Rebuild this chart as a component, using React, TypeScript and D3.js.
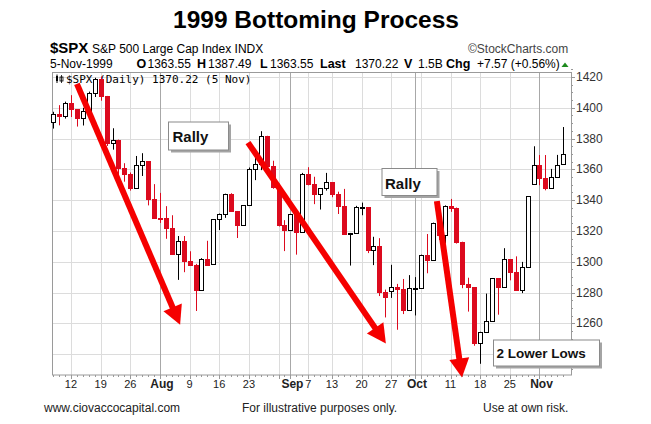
import React from "react";
import * as d3 from "d3";

// ---- Data (S&P 500 daily, Jul 7 – Nov 5 1999) ----
const dates = [
  "Jul 7","Jul 8","Jul 9","Jul 12","Jul 13","Jul 14","Jul 15","Jul 16","Jul 19","Jul 20","Jul 21","Jul 22","Jul 23","Jul 26","Jul 27","Jul 28","Jul 29","Jul 30",
  "Aug 2","Aug 3","Aug 4","Aug 5","Aug 6","Aug 9","Aug 10","Aug 11","Aug 12","Aug 13","Aug 16","Aug 17","Aug 18","Aug 19","Aug 20","Aug 23","Aug 24","Aug 25","Aug 26","Aug 27","Aug 30","Aug 31",
  "Sep 1","Sep 2","Sep 3","Sep 7","Sep 8","Sep 9","Sep 10","Sep 13","Sep 14","Sep 15","Sep 16","Sep 17","Sep 20","Sep 21","Sep 22","Sep 23","Sep 24","Sep 27","Sep 28","Sep 29","Sep 30",
  "Oct 1","Oct 4","Oct 5","Oct 6","Oct 7","Oct 8","Oct 11","Oct 12","Oct 13","Oct 14","Oct 15","Oct 18","Oct 19","Oct 20","Oct 21","Oct 22","Oct 25","Oct 26","Oct 27","Oct 28","Oct 29",
  "Nov 1","Nov 2","Nov 3","Nov 4","Nov 5",
];

const opens = [
  1391.0, 1395.9, 1394.4, 1403.3, 1399.1, 1393.6, 1398.2, 1409.6, 1418.8, 1407.7, 1377.1, 1379.3, 1361.0, 1356.9, 1347.8, 1362.8, 1365.4, 1341.0,
  1328.7, 1328.1, 1322.2, 1305.3, 1313.7, 1300.3, 1297.8, 1281.4, 1301.9, 1298.2, 1327.7, 1330.8, 1344.2, 1332.8, 1323.6, 1336.6, 1360.2, 1363.5, 1381.8, 1362.0, 1348.3, 1324.0,
  1320.4, 1331.1, 1319.1, 1357.2, 1350.5, 1344.2, 1347.7, 1351.7, 1344.1, 1336.3, 1318.0, 1318.5, 1335.4, 1335.5, 1307.6, 1310.5, 1280.4, 1281.0, 1283.3, 1282.2, 1268.4,
  1282.7, 1282.8, 1304.6, 1301.4, 1325.4, 1317.6, 1336.0, 1335.2, 1313.0, 1285.5, 1283.4, 1247.4, 1254.1, 1261.3, 1289.4, 1283.6, 1301.7, 1293.6, 1281.9, 1296.7, 1350.5,
  1362.9, 1354.1, 1347.7, 1354.9, 1363.55,
];

const highs = [
  1397.4, 1401.7, 1404.0, 1408.2, 1399.1, 1400.0, 1410.5, 1419.5, 1420.3, 1407.7, 1386.7, 1379.3, 1364.0, 1358.0, 1368.7, 1370.5, 1365.4, 1350.4,
  1344.7, 1336.1, 1330.2, 1316.7, 1316.7, 1306.8, 1298.6, 1302.3, 1313.6, 1327.7, 1331.3, 1344.2, 1344.5, 1332.8, 1336.6, 1361.2, 1367.4, 1384.8, 1381.8, 1365.6, 1350.7, 1327.0,
  1331.1, 1331.1, 1357.7, 1361.4, 1355.2, 1347.7, 1357.7, 1351.7, 1345.5, 1347.3, 1318.7, 1336.3, 1338.4, 1335.5, 1316.2, 1315.3, 1281.9, 1298.0, 1285.6, 1288.8, 1291.3,
  1290.0, 1304.6, 1318.0, 1325.4, 1328.1, 1336.6, 1340.8, 1335.2, 1313.0, 1289.6, 1283.4, 1254.5, 1279.3, 1289.4, 1289.4, 1308.8, 1301.7, 1303.5, 1299.9, 1342.5, 1375.0,
  1369.3, 1369.3, 1360.3, 1369.4, 1387.49,
];

const lows = [
  1386.5, 1388.6, 1393.0, 1394.0, 1387.8, 1388.5, 1397.5, 1407.0, 1404.6, 1375.2, 1372.8, 1355.6, 1352.0, 1346.2, 1347.8, 1355.7, 1336.6, 1328.5,
  1325.2, 1314.9, 1304.5, 1288.2, 1293.2, 1297.7, 1268.0, 1281.4, 1298.2, 1298.2, 1320.6, 1328.5, 1332.5, 1315.4, 1323.6, 1336.6, 1353.0, 1359.5, 1361.0, 1347.4, 1322.9, 1306.9,
  1320.4, 1304.6, 1319.1, 1349.6, 1337.4, 1333.9, 1346.2, 1341.9, 1331.0, 1317.5, 1297.5, 1318.5, 1330.2, 1305.6, 1297.8, 1277.7, 1263.8, 1276.5, 1255.8, 1266.0, 1268.4,
  1265.1, 1282.8, 1292.5, 1301.4, 1314.1, 1311.9, 1332.4, 1311.8, 1282.8, 1267.6, 1245.4, 1233.7, 1254.1, 1261.3, 1265.6, 1283.6, 1287.9, 1281.3, 1279.6, 1296.7, 1350.5,
  1349.7, 1346.4, 1347.7, 1354.6, 1363.55,
];

const closes = [
  1395.86, 1394.42, 1403.28, 1399.10, 1393.56, 1398.17, 1409.62, 1418.78, 1407.65, 1377.10, 1379.29, 1360.97, 1356.94, 1347.76, 1362.84, 1365.40, 1341.03, 1328.72,
  1328.05, 1322.18, 1305.33, 1313.71, 1300.29, 1297.80, 1281.43, 1301.93, 1298.16, 1327.68, 1330.77, 1344.16, 1332.84, 1323.59, 1336.61, 1360.22, 1363.50, 1381.79, 1362.01, 1348.27, 1324.02, 1320.41,
  1331.07, 1319.11, 1357.24, 1350.45, 1344.15, 1347.66, 1351.66, 1344.13, 1336.29, 1317.97, 1318.48, 1335.42, 1335.53, 1307.58, 1310.51, 1280.41, 1277.36, 1283.31, 1282.20, 1268.37, 1282.71,
  1282.81, 1304.60, 1301.35, 1325.40, 1317.64, 1336.02, 1335.21, 1313.04, 1285.55, 1283.42, 1247.41, 1254.13, 1261.32, 1289.43, 1283.61, 1301.65, 1293.63, 1281.91, 1296.71, 1342.44, 1362.93,
  1354.12, 1347.74, 1354.93, 1362.64, 1370.22,
];

const yTickValues = [1260, 1280, 1300, 1320, 1340, 1360, 1380, 1400, 1420];
const yGridValues = [1240, 1260, 1280, 1300, 1320, 1340, 1360, 1380, 1400, 1420];

const gridDates = ["Jul 12","Jul 19","Jul 26","Aug 2","Aug 9","Aug 16","Aug 23","Aug 30","Sep 1","Sep 7","Sep 13","Sep 20","Sep 27","Oct 1","Oct 4","Oct 11","Oct 18","Oct 25","Nov 1"];
const monthDates = ["Aug 2", "Sep 1", "Oct 1", "Nov 1"];
const xTickDates = ["Jul 12","Jul 19","Jul 26","Aug 2","Aug 9","Aug 16","Aug 23","Sep 1","Sep 7","Sep 13","Sep 20","Sep 27","Oct 1","Oct 11","Oct 18","Oct 25","Nov 1"];
const xTickLabels = ["12","19","26","Aug","9","16","23","Sep","7","13","20","27","Oct","11","18","25","Nov"];

// arrows in (trading-day index, price) coordinates
const arrowStarts: [number, number][] = [[4.0, 1415.5], [32.85, 1377.4], [64.7, 1339.4]];
const arrowEnds: [number, number][] = [[21.4, 1259.0], [56.1, 1246.8], [68.93, 1224.8]];

const FONT = "'Liberation Sans', Arial, Helvetica, sans-serif";
const RED = "#dc0a1e";
const ARROW = "#f50000";

function Box({ x, y, w, h, label, fs, tx, ty }: any) {
  return (
    <g>
      <rect x={x + 3} y={y + 3} width={w} height={h} fill="#a4a4a4" />
      <rect x={x + 0.5} y={y + 0.5} width={w} height={h} fill="#fff" stroke="#8a8a8a" strokeWidth={1} />
      <text x={tx} y={ty} fontFamily={FONT} fontWeight="bold" fontSize={fs} fill="#111">{label}</text>
    </g>
  );
}

export default function App() {
  const W = 651, H = 424;
  const left = 52, right = 571, top = 72.5, bottom = 375;

  const x = d3.scalePoint<string>().domain(dates).range([53.2, 563.2]);
  const step = x.step();
  const xi = (i: number) => (x(dates[0]) as number) + i * step;
  const y = d3.scaleLinear().domain([1260, 1420]).range([323.3, 77.0]);

  const px = (v: number) => Math.round(v) + 0.5;

  const candles = dates.map((d, i) => {
    const o = opens[i], c = closes[i], hi = highs[i], lo = lows[i];
    const cx = Math.round(x(d) as number);
    const up = c >= o;
    const yTop = Math.round(y(Math.max(o, c)));
    const yBot = Math.round(y(Math.min(o, c)));
    const bh = Math.max(1, yBot - yTop);
    if (up) {
      return (
        <g key={d}>
          <line x1={cx + 0.5} x2={cx + 0.5} y1={y(hi)} y2={y(lo)} stroke="#000" strokeWidth={1} />
          <rect x={cx - 2 + 0.5} y={yTop + 0.5} width={4} height={bh} fill="#fff" stroke="#000" strokeWidth={1} />
        </g>
      );
    }
    return (
      <g key={d}>
        <line x1={cx + 0.5} x2={cx + 0.5} y1={y(hi)} y2={y(lo)} stroke={RED} strokeWidth={1} />
        <rect x={cx - 2} y={yTop} width={5} height={bh + 1} fill={RED} />
      </g>
    );
  });

  const arrows = arrowStarts.map((s, k) => {
    const e = arrowEnds[k];
    const x1 = xi(s[0]), y1 = y(s[1]);
    const x2 = xi(e[0]), y2 = y(e[1]);
    const dx = x2 - x1, dy = y2 - y1;
    const len = Math.hypot(dx, dy);
    const ux = dx / len, uy = dy / len;
    const L = 19, hw = 10;
    const bx = x2 - ux * L, by = y2 - uy * L;
    const nx = -uy, ny = ux;
    const pts = [
      [x2, y2],
      [bx + nx * hw, by + ny * hw],
      [bx - nx * hw, by - ny * hw],
    ].map((p) => p.join(",")).join(" ");
    return (
      <g key={k}>
        <line x1={x1} y1={y1} x2={bx + ux * 2} y2={by + uy * 2} stroke={ARROW} strokeWidth={6} />
        <polygon points={pts} fill={ARROW} />
      </g>
    );
  });

  const minorY: number[] = d3.range(1230, 1426, 5);

  return (
    <svg width={W} height={H} viewBox={`0 0 ${W} ${H}`} style={{ position: "absolute", left: 0, top: 0, background: "#fff" }}>
      <rect x={0} y={0} width={W} height={H} fill="#fff" />
      {/* Title */}
      <text x={316} y={28} textAnchor="middle" fontFamily={FONT} fontWeight="bold" fontSize={24.5} fill="#000">1999 Bottoming Process</text>

      {/* Header */}
      <text x={50} y={53} fontFamily={FONT} fontSize={12} fill="#000">
        <tspan fontWeight="bold" fontSize={15}>$SPX</tspan>
        <tspan x={92}>S&amp;P 500 Large Cap Index INDX</tspan>
      </text>
      <text x={468} y={53} fontFamily={FONT} fontSize={12} fill="#444">©StockCharts.com</text>
      <text y={68} fontFamily={FONT} fontSize={12} fill="#000">
        <tspan x={50}>5-Nov-1999</tspan>
        <tspan x={136.5} fontWeight="bold" fontSize={12.5}>O</tspan>
        <tspan x={147.5}>1363.55</tspan>
        <tspan x={197} fontWeight="bold" fontSize={12.5}>H</tspan>
        <tspan x={208}>1387.49</tspan>
        <tspan x={260} fontWeight="bold" fontSize={12.5}>L</tspan>
        <tspan x={270}>1363.55</tspan>
        <tspan x={320} fontWeight="bold" fontSize={12.5}>Last</tspan>
        <tspan x={355}>1370.22</tspan>
        <tspan x={404} fontWeight="bold" fontSize={12.5}>V</tspan>
        <tspan x={418}>1.5B</tspan>
        <tspan x={446} fontWeight="bold" fontSize={12.5}>Chg</tspan>
        <tspan x={477}>+7.57 (+0.56%)</tspan>
      </text>
      <polygon points="561.5,67 568.5,67 565,62.5" fill="#1d8a1d" />

      {/* Grid */}
      {yGridValues.map((v) => (
        <line key={"hg" + v} x1={left} x2={right} y1={px(y(v))} y2={px(y(v))} stroke="#dcdcdc" strokeWidth={1} />
      ))}
      {gridDates.map((d) => (
        <line key={"vg" + d} x1={px(x(d) as number)} x2={px(x(d) as number)} y1={top} y2={bottom}
          stroke={monthDates.includes(d) ? "#a8a8a8" : "#dcdcdc"} strokeWidth={1} />
      ))}

      {/* Plot frame */}
      <rect x={left + 0.5} y={top} width={right - left} height={bottom - top} fill="none" stroke="#9a9a9a" strokeWidth={1} />

      {/* Inner label */}
      <g>
        <rect x={56} y={76} width={2} height={5} fill="#000" />
        <line x1={57} x2={57} y1={74.5} y2={83} stroke="#000" strokeWidth={1} />
        <rect x={60} y={77} width={3} height={4} fill="none" stroke="#000" strokeWidth={0.8} />
        <line x1={61.5} x2={61.5} y1={75} y2={83} stroke="#000" strokeWidth={0.8} />
        <text x={66} y={82.5} fontFamily="'DejaVu Sans Mono', 'Liberation Mono', monospace" fontSize={11} fill="#000">$SPX (Daily) 1370.22 (5 Nov)</text>
      </g>

      {/* Candles */}
      {candles}

      {/* Right axis */}
      {minorY.map((v) => (
        <line key={"my" + v} x1={right} x2={right + (v % 20 === 0 ? 4 : 2)} y1={px(y(v))} y2={px(y(v))} stroke="#999" strokeWidth={1} />
      ))}
      {yTickValues.map((v) => (
        <text key={"yl" + v} x={576} y={y(v) + 4} fontFamily={FONT} fontSize={12} fill="#333">{v}</text>
      ))}

      {/* Bottom axis */}
      {dates.map((d) => (
        <line key={"xt" + d} x1={px(x(d) as number)} x2={px(x(d) as number)} y1={bottom} y2={bottom + (gridDates.includes(d) ? 4 : 2)} stroke="#999" strokeWidth={1} />
      ))}
      {xTickDates.map((d, i) => {
        const isMonth = monthDates.includes(d);
        return (
          <text key={"xl" + d} x={(x(d) as number) + (isMonth ? 2 : 0)} y={388} textAnchor="middle" fontFamily={FONT}
            fontSize={isMonth ? 12 : 11} fontWeight={isMonth ? "bold" : "normal"} fill="#222">{xTickLabels[i]}</text>
        );
      })}

      {/* Annotations */}
      <Box x={168} y={121.5} w={60} h={28} label="Rally" fs={15} tx={172.5} ty={141.5} />
      <Box x={381.5} y={168} w={55} h={27} label="Rally" fs={15} tx={385} ty={188.5} />
      <Box x={493} y={339.5} w={106} h={26} label="2 Lower Lows" fs={13.5} tx={496.5} ty={358} />

      {arrows}

      {/* Footer */}
      <text x={44} y={412} fontFamily={FONT} fontSize={12} fill="#222">www.ciovaccocapital.com</text>
      <text x={242} y={412} fontFamily={FONT} fontSize={12} fill="#222">For illustrative purposes only.</text>
      <text x={483} y={412} fontFamily={FONT} fontSize={12} fill="#222">Use at own risk.</text>
    </svg>
  );
}
